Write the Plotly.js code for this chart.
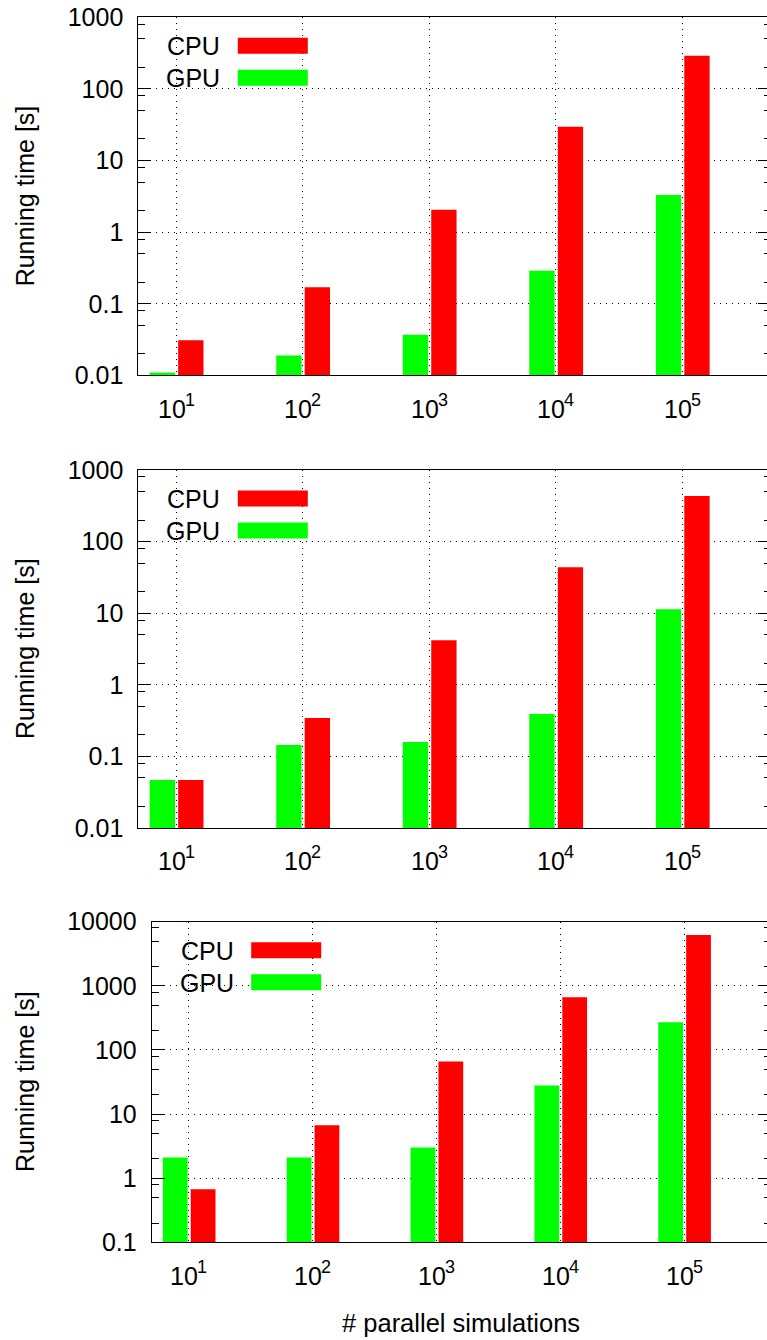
<!DOCTYPE html>
<html>
<head>
<meta charset="utf-8">
<script src="https://cdn.plot.ly/plotly-3.0.1.min.js"></script>
<style>
  html, body { margin: 0; padding: 0; overflow: hidden; background: #fff; }
  #chart { width: 772px; height: 1340px; }
</style>
</head>
<body>
<div id="chart"></div>
<script>
// Number of parallel simulations, given as powers of ten (10^1 ... 10^5)
const exponents = [1, 2, 3, 4, 5];
const tickBase = '10';

// Running time [s], top panel
const gpuTop = [0.011, 0.019, 0.037, 0.29, 3.3];
const cpuTop = [0.031, 0.17, 2.05, 29.6, 290];

// Running time [s], middle panel
const gpuMid = [0.047, 0.144, 0.159, 0.39, 11.4];
const cpuMid = [0.047, 0.344, 4.2, 44, 433];

// Running time [s], bottom panel
const gpuBot = [2.1, 2.1, 3.0, 28, 271];
const cpuBot = [0.67, 6.7, 66, 665, 6200];

// Y tick values and labels
const yTicksTop = [0.01, 0.1, 1, 10, 100, 1000];
const yLabelsTop = ['0.01', '0.1', '1', '10', '100', '1000'];
const yTicksBot = [0.1, 1, 10, 100, 1000, 10000];
const yLabelsBot = ['0.1', '1', '10', '100', '1000', '10000'];

const seriesNames = ['CPU', 'GPU'];
const yTitle = 'Running time [s]';
const xTitle = '# parallel simulations';

// ---- geometry (pixels) ----
const W = 772, H = 1340;
const panels = [
  { left: 138.3, top: 17.3, bottom: 375.4, gpu: gpuTop, cpu: cpuTop, ticks: yTicksTop, labels: yLabelsTop },
  { left: 138.3, top: 470.0, bottom: 828.0, gpu: gpuMid, cpu: cpuMid, ticks: yTicksTop, labels: yLabelsTop },
  { left: 151.7, top: 921.7, bottom: 1242.3, gpu: gpuBot, cpu: cpuBot, ticks: yTicksBot, labels: yLabelsBot }
];
const plotRight = 771;
const px = x => x / W;
const py = y => 1 - y / H;

const FS = 25;
const RED = '#ff0000', GREEN = '#00ff00';
const FAMILY = 'Liberation Sans, Arial, sans-serif';
const FONT = { family: FAMILY, size: FS, color: '#000' };
const SUP_FONT = { family: FAMILY, size: 18, color: '#000' };
const GRID_DASH = '1px,5px';

const data = [];
const layout = {
  width: W, height: H,
  margin: { l: 0, r: 0, t: 0, b: 0 },
  paper_bgcolor: '#fff', plot_bgcolor: '#fff',
  showlegend: false,
  barmode: 'overlay',
  font: FONT,
  shapes: [], annotations: []
};

panels.forEach((p, i) => {
  const n = i === 0 ? '' : String(i + 1);
  const xa = 'x' + n, ya = 'y' + n;

  data.push({
    type: 'bar', name: seriesNames[1], x: exponents, y: p.gpu,
    xaxis: xa, yaxis: ya, offset: -0.21, width: 0.2,
    marker: { color: GREEN, line: { width: 0 } }, hoverinfo: 'y'
  });
  data.push({
    type: 'bar', name: seriesNames[0], x: exponents, y: p.cpu,
    xaxis: xa, yaxis: ya, offset: 0.015, width: 0.2,
    marker: { color: RED, line: { width: 0 } }, hoverinfo: 'y'
  });

  const logMin = Math.log10(p.ticks[0]);
  const logMax = Math.log10(p.ticks[p.ticks.length - 1]);
  const minorVals = [];
  for (let e = Math.round(logMin); e < Math.round(logMax); e++) {
    [2, 5, 8].forEach(m => minorVals.push(m * Math.pow(10, e)));
  }

  layout['xaxis' + n] = {
    domain: [px(p.left), px(plotRight)],
    anchor: ya,
    range: [0.7, 5.7],
    tickmode: 'array', tickvals: exponents,
    ticks: '', showticklabels: false,
    showgrid: true, gridcolor: '#000', gridwidth: 1, griddash: GRID_DASH,
    zeroline: false,
    showline: true, linecolor: '#000', linewidth: 1, mirror: true,
    automargin: false, fixedrange: true
  };
  layout['yaxis' + n] = {
    domain: [py(p.bottom), py(p.top)],
    anchor: xa,
    type: 'log',
    range: [logMin, logMax],
    tickmode: 'array', tickvals: p.ticks, ticktext: p.labels,
    ticks: 'inside', ticklen: 13, tickwidth: 1, tickcolor: '#000',
    ticklabelstandoff: 9,
    minor: { tickmode: 'array', tickvals: minorVals, ticks: 'inside', ticklen: 7, tickwidth: 1, tickcolor: '#000', showgrid: false },
    showgrid: true, gridcolor: '#000', gridwidth: 1, griddash: GRID_DASH,
    zeroline: false,
    showline: true, linecolor: '#000', linewidth: 1, mirror: 'allticks',
    tickfont: FONT, automargin: false, fixedrange: true
  };

  // x tick labels: base "10" and its exponent, placed on the x scale
  exponents.forEach(e => {
    layout.annotations.push({
      xref: xa, yref: 'paper', showarrow: false, borderpad: 0,
      x: e, xshift: 10.5, y: py(p.bottom + 33.4),
      xanchor: 'right', yanchor: 'middle',
      text: tickBase, font: FONT
    });
    layout.annotations.push({
      xref: xa, yref: 'paper', showarrow: false, borderpad: 0,
      x: e, xshift: 7.5, y: py(p.bottom + 24.4),
      xanchor: 'left', yanchor: 'middle',
      text: String(e), font: SUP_FONT
    });
  });

  // key box: white background hiding the grid, swatches on the right of the labels
  layout.shapes.push({
    type: 'rect', xref: 'paper', yref: 'paper', layer: 'between',
    x0: px(p.left + 8), x1: px(p.left + 183), y0: py(p.top + 9), y1: py(p.top + 73),
    fillcolor: '#fff', line: { width: 0 }
  });
  const rows = [
    { label: seriesNames[0], color: RED, y0: 20.5, y1: 36.5 },
    { label: seriesNames[1], color: GREEN, y0: 52.5, y1: 68.5 }
  ];
  rows.forEach(r => {
    layout.shapes.push({
      type: 'rect', xref: 'paper', yref: 'paper', layer: 'above',
      x0: px(p.left + 99.5), x1: px(p.left + 169.5),
      y0: py(p.top + r.y1), y1: py(p.top + r.y0),
      fillcolor: r.color, line: { width: 0 }
    });
    layout.annotations.push({
      xref: 'paper', yref: 'paper', showarrow: false,
      x: px(p.left + 84), y: py(p.top + (r.y0 + r.y1) / 2 + 0.5),
      xanchor: 'right', yanchor: 'middle',
      text: r.label, font: FONT
    });
  });

  // y axis title
  layout.annotations.push({
    xref: 'paper', yref: 'paper', showarrow: false,
    x: px(25), y: py((p.top + p.bottom) / 2),
    xanchor: 'center', yanchor: 'middle', textangle: -90,
    text: yTitle, font: FONT
  });
});

// x axis title under the bottom panel
layout.annotations.push({
  xref: 'paper', yref: 'paper', showarrow: false,
  x: px(461), y: py(1323),
  xanchor: 'center', yanchor: 'middle',
  text: xTitle, font: { family: FAMILY, size: 25.5, color: '#000' }
});

Plotly.newPlot('chart', data, layout, { displayModeBar: false, staticPlot: true });
</script>
</body>
</html>
